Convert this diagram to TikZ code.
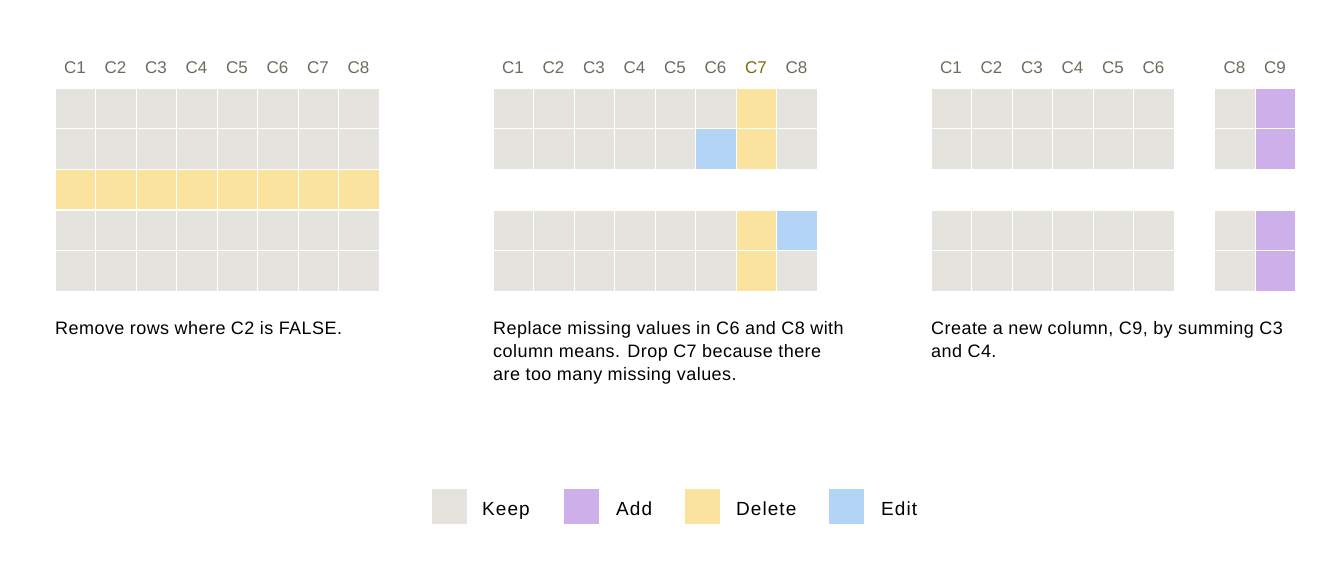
\documentclass[tikz,border=0pt]{standalone}
\usepackage{fontspec}
\setmainfont{Liberation Sans}
\newfontfamily\spacedfont[LetterSpace=5.5]{Liberation Sans}
\newfontfamily\capfont[LetterSpace=2.5]{Liberation Sans}
\definecolor{keepc}{HTML}{E4E3DE}
\definecolor{addc}{HTML}{CDB0EA}
\definecolor{delc}{HTML}{FAE39E}
\definecolor{editc}{HTML}{B3D4F5}
\definecolor{hdrc}{HTML}{6E6A5C}
\definecolor{hdrhi}{HTML}{7D6A0A}
\tikzset{
  cell/.style={minimum width=39.5pt, minimum height=39.5pt, inner sep=0pt, draw=none, anchor=north west},
  hdr/.style={text=hdrc, font=\fontsize{17}{20}\selectfont, inner sep=0pt},
  captxt/.style={anchor=north west, inner sep=0pt, align=left, font=\capfont\fontsize{18}{23}\selectfont, text=black},
  legbox/.style={minimum width=35pt, minimum height=35pt, inner sep=0pt, anchor=north west},
  legtxt/.style={anchor=base west, inner sep=0pt, font=\spacedfont\fontsize{19}{22}\selectfont, text=black}
}
\begin{document}
\begin{tikzpicture}[x=1pt,y=-1pt]
\useasboundingbox (0,0) rectangle (1344,576);
% ---------- Panel 1 ----------
\foreach \c in {1,...,8}{
  \node[hdr] (a-h\c) at ({55+(\c-1)*40.5+20}, 68) {C\c};
  \foreach \r/\col in {1/keepc,2/keepc,3/delc,4/keepc,5/keepc}{
    \node[cell, fill=\col] (a-\r-\c) at ({55+(\c-1)*40.5+0.5}, {88+(\r-1)*40.6+0.5}) {};
  }
}
\node[captxt] (a-cap) at (55,321.5) {Remove rows where C2 is FALSE.};
% ---------- Panel 2 ----------
\foreach \c in {1,...,6}{
  \node[hdr] (b-h\c) at ({493+(\c-1)*40.5+20}, 68) {C\c};
}
\node[hdr, text=hdrhi] (b-h7) at ({493+6*40.5+20}, 68) {C7};
\node[hdr] (b-h8) at ({493+7*40.5+20}, 68) {C8};
\foreach \c in {1,...,8}{
  \foreach \r in {1,2,4,5}{
    \node[cell, fill=keepc] (b-\r-\c) at ({493+(\c-1)*40.5+0.5}, {88+(\r-1)*40.6+0.5}) {};
  }
}
\foreach \r in {1,2,4,5}{
  \node[cell, fill=delc] (b-\r-7x) at ({493+6*40.5+0.5}, {88+(\r-1)*40.6+0.5}) {};
}
\node[cell, fill=editc] (b-2-6x) at ({493+5*40.5+0.5}, {88+1*40.6+0.5}) {};
\node[cell, fill=editc] (b-4-8x) at ({493+7*40.5+0.5}, {88+3*40.6+0.5}) {};
\node[captxt] (b-cap) at (493,321.5) {Replace missing values in C6 and C8 with\\column means. Drop C7 because there\\are too many missing values.};
% ---------- Panel 3 ----------
\foreach \c/\k in {1/1,2/2,3/3,4/4,5/5,6/6,8/8,9/9}{
  \node[hdr] (c-h\c) at ({931+(\k-1)*40.5+20}, 68) {C\c};
  \foreach \r in {1,2,4,5}{
    \node[cell, fill=keepc] (c-\r-\c) at ({931+(\k-1)*40.5+0.5}, {88+(\r-1)*40.6+0.5}) {};
  }
}
\foreach \r in {1,2,4,5}{
  \node[cell, fill=addc] (c-\r-9x) at ({931+8*40.5+0.5}, {88+(\r-1)*40.6+0.5}) {};
}
\node[captxt] (c-cap) at (931,321.5) {Create a new column, C9, by summing C3\\and C4.};
% ---------- Legend ----------
\node[legbox, fill=keepc] (l-keep) at (432,489) {};
\node[legtxt] (l-keep-t) at (482,515) {Keep};
\node[legbox, fill=addc] (l-add) at (564,489) {};
\node[legtxt] (l-add-t) at (616,515) {Add};
\node[legbox, fill=delc] (l-del) at (685,489) {};
\node[legtxt] (l-del-t) at (736,515) {Delete};
\node[legbox, fill=editc] (l-edit) at (829,489) {};
\node[legtxt] (l-edit-t) at (881,515) {Edit};
\end{tikzpicture}
\end{document}
